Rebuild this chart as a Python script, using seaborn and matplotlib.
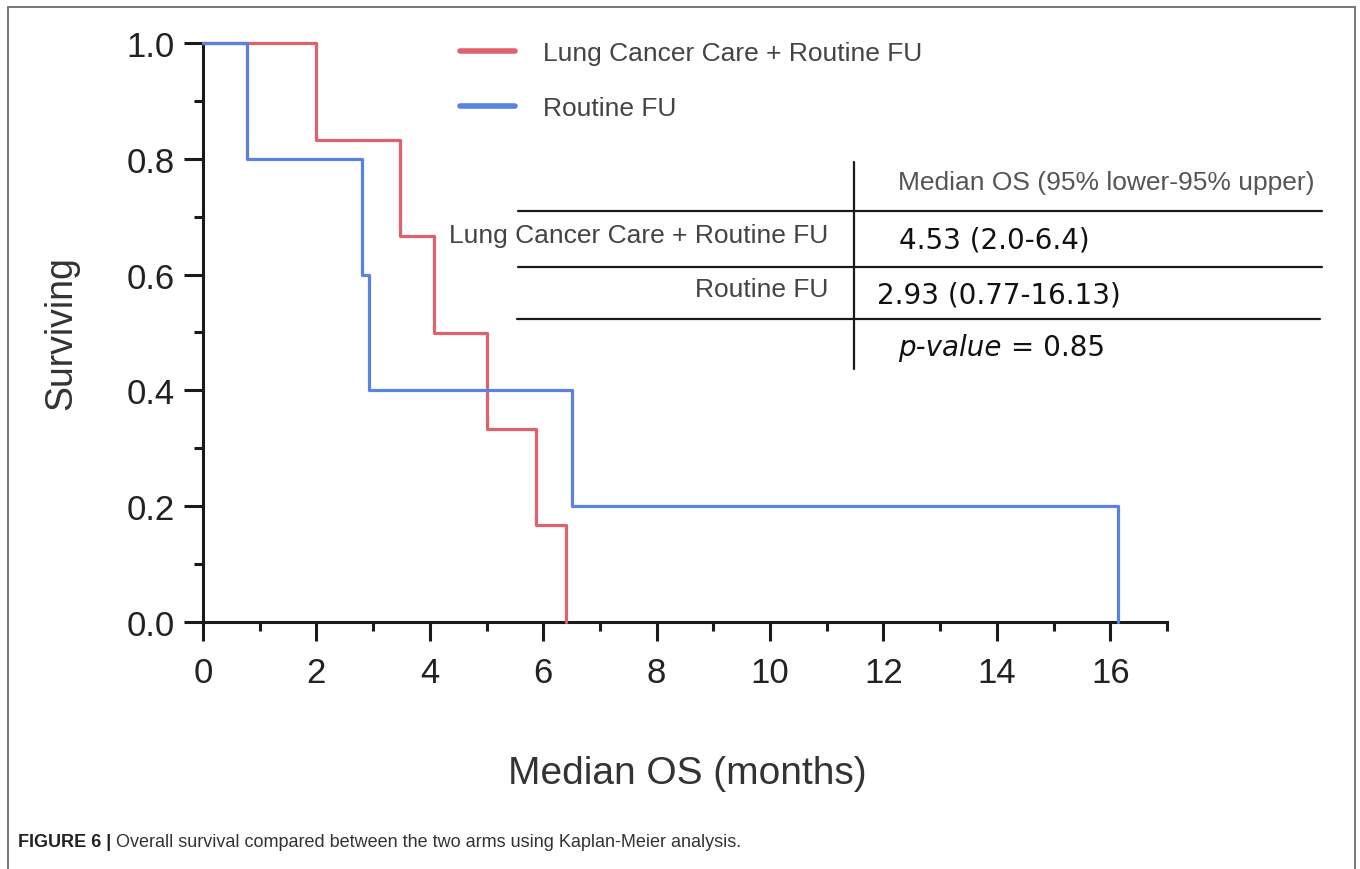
import numpy as np
import pandas as pd
import seaborn as sns
import matplotlib.pyplot as plt
from matplotlib.lines import Line2D
from matplotlib.ticker import MultipleLocator, FormatStrFormatter

# ---- data ----
groups = ["Lung Cancer Care + Routine FU", "Routine FU"]
lcc_months = [0.0, 2.0, 3.47, 4.07, 5.0, 5.87, 6.4]
lcc_surv = [1.0, 0.833, 0.667, 0.5, 0.333, 0.167, 0.0]
rfu_months = [0.0, 0.77, 2.8, 2.93, 6.5, 16.13]
rfu_surv = [1.0, 0.8, 0.6, 0.4, 0.2, 0.0]
x_ticks = [0, 2, 4, 6, 8, 10, 12, 14, 16]
y_ticks = [0.0, 0.2, 0.4, 0.6, 0.8, 1.0]
table_header = "Median OS (95% lower-95% upper)"
table_values = ["4.53 (2.0-6.4)", "2.93 (0.77-16.13)"]
p_value = "0.85"
caption_bold = "FIGURE 6 |"
caption_text = " Overall survival compared between the two arms using Kaplan-Meier analysis."

colors = ["#E0606E", "#5A82E2"]

df = pd.concat([
    pd.DataFrame({"months": lcc_months, "surv": lcc_surv, "group": groups[0]}),
    pd.DataFrame({"months": rfu_months, "surv": rfu_surv, "group": groups[1]}),
])

sns.set_style("ticks")
plt.rcParams["font.family"] = ["Liberation Sans", "DejaVu Sans"]

W, H = 1360, 870
fig = plt.figure(figsize=(W / 100, H / 100), dpi=100)
fig.patch.set_facecolor("white")


def fx(x):
    return x / W


def fy(y):
    return 1 - y / H


ax = fig.add_axes([fx(203), fy(623), (1167 - 203) / W, (623 - 44) / H])

sns.lineplot(data=df, x="months", y="surv", hue="group", hue_order=groups,
             palette=colors, drawstyle="steps-post", estimator=None,
             linewidth=2.3, ax=ax, legend=True, clip_on=False, zorder=3)

ax.set_xlim(0, 17)
ax.set_ylim(0, 1)
ax.set_xticks(x_ticks)
ax.set_yticks(y_ticks)
ax.xaxis.set_minor_locator(MultipleLocator(1))
ax.yaxis.set_minor_locator(MultipleLocator(0.1))
ax.yaxis.set_major_formatter(FormatStrFormatter("%.1f"))

for s in ["top", "right"]:
    ax.spines[s].set_visible(False)
for s in ["left", "bottom"]:
    ax.spines[s].set_linewidth(2.2)
    ax.spines[s].set_color("#1a1a1a")

ax.tick_params(which="major", length=13.5, width=2.2, color="#1a1a1a",
               labelsize=25, labelcolor="#222222")
ax.tick_params(which="minor", length=6.5, width=2.2, color="#1a1a1a")
ax.tick_params(axis="x", which="major", pad=11)
ax.tick_params(axis="y", which="major", pad=7)

ax.set_xlabel("Median OS (months)", fontsize=28, color="#333333")
ax.set_ylabel("Surviving", fontsize=27, color="#333333")
ax.xaxis.set_label_coords(0.502, -0.230)
ax.yaxis.set_label_coords(-0.128, 0.50)

# legend
leg = ax.legend(loc="upper left", bbox_to_anchor=(fx(460), fy(42)),
                bbox_transform=fig.transFigure, frameon=False, fontsize=19,
                handlelength=2.1, handletextpad=1.05, labelspacing=1.18,
                borderpad=0, borderaxespad=0)
for t in leg.get_texts():
    t.set_color("#444444")
for h in leg.legend_handles:
    h.set_linewidth(4)

# table lines
def fline(x0, y0, x1, y1, lw=1.6):
    fig.add_artist(Line2D([fx(x0), fx(x1)], [fy(y0), fy(y1)],
                          transform=fig.transFigure, color="#1a1a1a", lw=lw))

fline(854, 163, 854, 370)
fline(518, 212, 1322, 212)
fline(518, 268, 1322, 268)
fline(517, 320, 1320, 320)

fig.text(fx(898), fy(183), table_header, fontsize=19, color="#555555",
         ha="left", va="center")
fig.text(fx(828), fy(236), groups[0], fontsize=19, color="#444444",
         ha="right", va="center")
fig.text(fx(828), fy(290), groups[1], fontsize=19, color="#444444",
         ha="right", va="center")
fig.text(fx(899), fy(241), table_values[0], fontsize=20, color="#111111",
         ha="left", va="center", family="DejaVu Sans")
fig.text(fx(877), fy(296), table_values[1], fontsize=20, color="#111111",
         ha="left", va="center", family="DejaVu Sans")
tp = fig.text(fx(898), fy(348), "p-value", fontsize=20, color="#111111",
              ha="left", va="center", style="italic", family="DejaVu Sans")
ax.annotate(" = " + p_value, xy=(1, 0), xycoords=tp, fontsize=20,
            color="#111111", ha="left", va="bottom", family="DejaVu Sans",
            annotation_clip=False)

# caption
tc = fig.text(fx(18), fy(843), caption_bold, fontsize=13, color="#222222",
              ha="left", va="center", weight="bold")
ax.annotate(caption_text, xy=(1, 0), xycoords=tc, fontsize=13,
            color="#333333", ha="left", va="bottom", annotation_clip=False)

# frame border
for (x0, y0, x1, y1) in [(8, 8, 8, 870), (8, 8, 1355, 8), (1355, 8, 1355, 870)]:
    fig.add_artist(Line2D([fx(x0), fx(x1)], [fy(y0), fy(y1)],
                          transform=fig.transFigure, color="#777777", lw=1.4))

fig.savefig("out.png", dpi=100, facecolor="white")
